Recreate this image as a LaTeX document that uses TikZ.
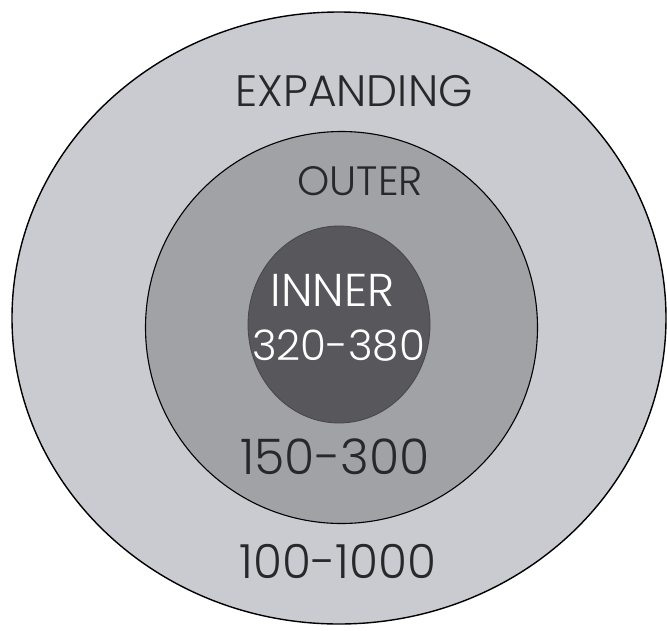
\documentclass[tikz,border=0pt]{standalone}
\usepackage{fontspec}
\setmainfont{Poppins Light}
\usepackage{tikz}
\usepackage{xcolor}

\definecolor{ringexp}{RGB}{201,203,209}
\definecolor{ringout}{RGB}{160,162,166}
\definecolor{ringin}{RGB}{88,88,92}
\definecolor{lblgray}{RGB}{40,40,42}

\begin{document}
\begin{tikzpicture}[x=1pt,y=-1pt,
  lbl/.style={text=lblgray,inner sep=0pt},
  lblin/.style={text=white,inner sep=0pt}]
\useasboundingbox (0,0) rectangle (667,630);
\filldraw[fill=ringexp,draw=black,line width=1.4pt] (339,318) ellipse [x radius=327,y radius=306];
\filldraw[fill=ringout,draw=black,line width=1.1pt] (341.5,327.5) circle [radius=196];
\filldraw[fill=ringin,draw=ringin!80!black,line width=0.8pt] (339,324.5) ellipse [x radius=91,y radius=98.5];
\node[lbl,font=\fontsize{44}{44}\selectfont] (expanding) at (354,91) {EXPANDING};
\node[lbl,font=\fontsize{41}{41}\selectfont] (outer) at (360,181) {OUTER};
\node[lblin,font=\fontsize{46}{46}\selectfont] (inner) at (332.5,290.5) {INNER};
\node[lblin,font=\fontsize{42}{42}\selectfont] (innerrange) at (338.5,346) {320-380};
\node[lbl,font=\fontsize{49}{49}\selectfont] (outerrange) at (335,457) {150-300};
\node[lbl,font=\fontsize{47}{47}\selectfont] (exprange) at (338,561) {100-1000};
\end{tikzpicture}
\end{document}
